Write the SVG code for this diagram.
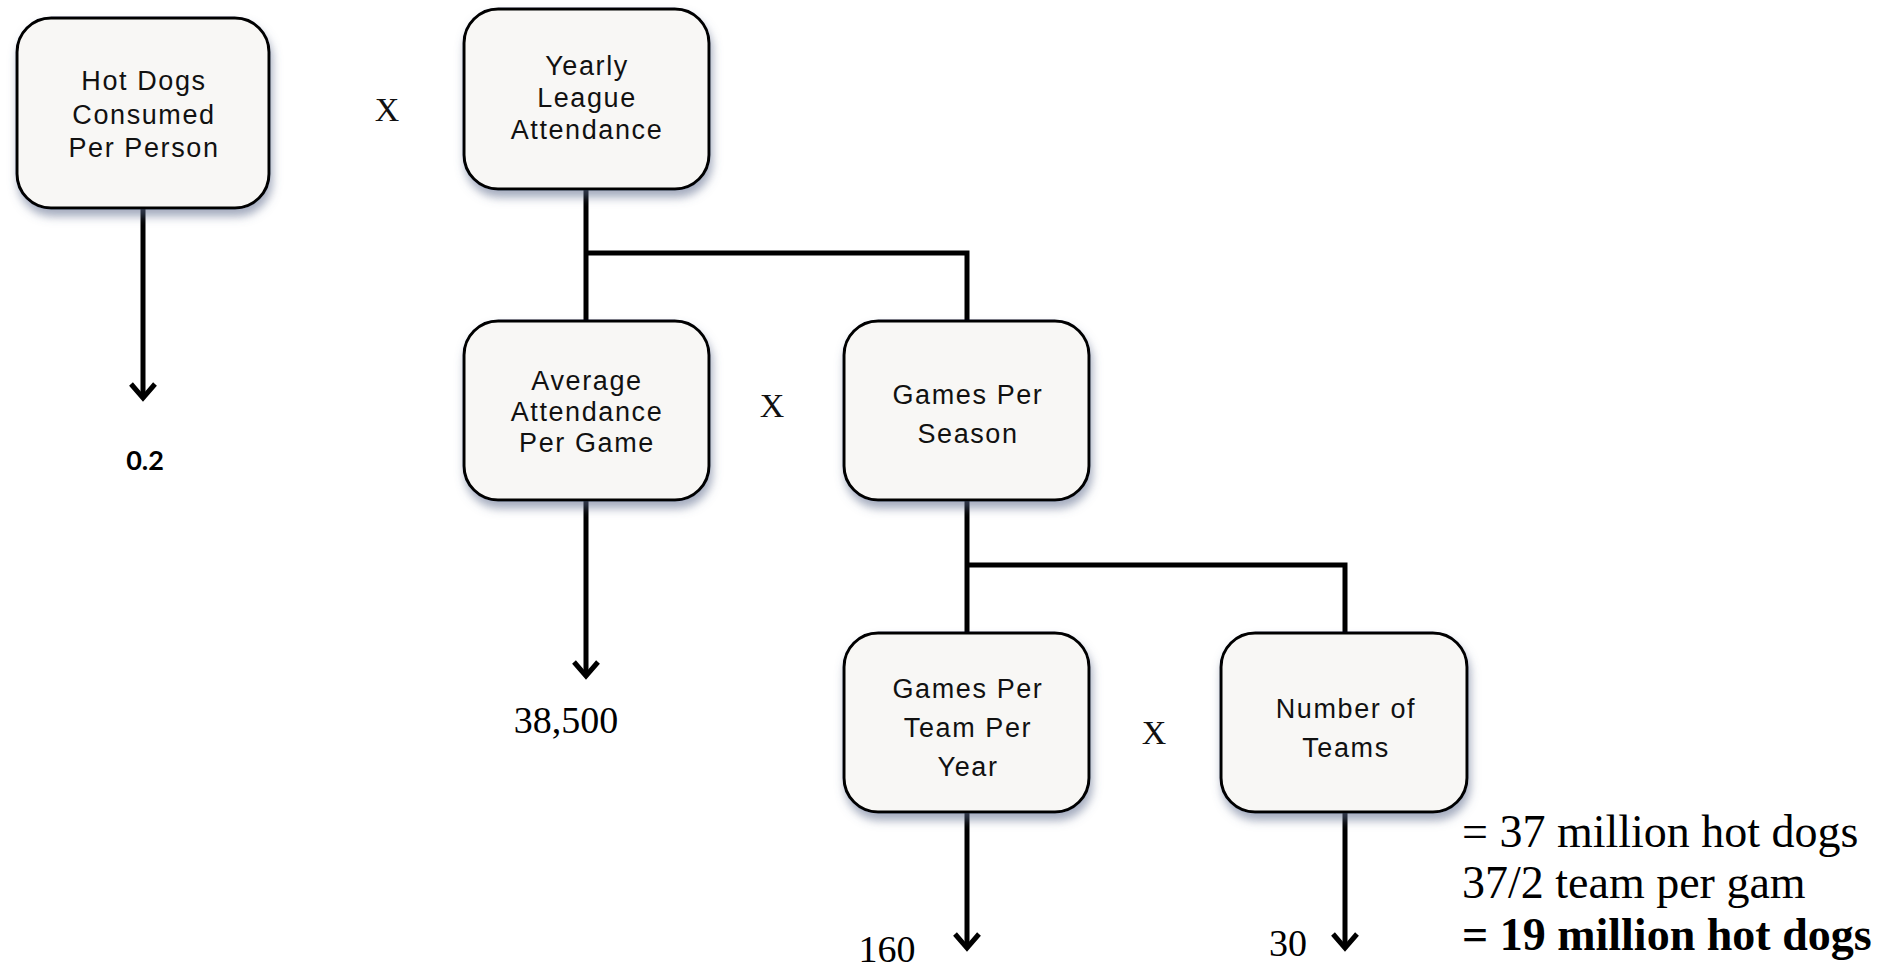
<svg xmlns="http://www.w3.org/2000/svg" width="1898" height="969" viewBox="0 0 1898 969">
<defs>
<filter id="sh" x="-20%" y="-20%" width="140%" height="150%">
<feDropShadow dx="2" dy="7" stdDeviation="5" flood-color="#5a6888" flood-opacity="0.55"/>
</filter>
<marker id="arr" markerUnits="userSpaceOnUse" markerWidth="40" markerHeight="40" refX="16" refY="14" orient="auto" viewBox="-4 -4 40 40">
<path d="M2,2 L16,14 L2,26" fill="none" stroke="#000" stroke-width="5" stroke-linejoin="miter"/>
</marker>
<style>
.box{fill:#f8f7f5;stroke:#000;stroke-width:3;filter:url(#sh)}
.lbl{font-family:"Liberation Sans",Arial,sans-serif;font-size:27px;fill:#111;text-anchor:middle;letter-spacing:1.6px}
.con{fill:none;stroke:#000;stroke-width:5}
.x{font-family:"Liberation Serif",serif;font-size:34px;fill:#111;text-anchor:middle}
.num{font-family:"Liberation Serif",serif;font-size:38px;fill:#000;text-anchor:middle}
.res{font-family:"Liberation Serif",serif;font-size:46px;fill:#000}
</style>
</defs>
<rect width="1898" height="969" fill="#fff"/>
<g id="connectors">
<path class="con" d="M143,208 V398" marker-end="url(#arr)"/>
<path class="con" d="M586,189 V321 M586,253 H967 V321"/>
<path class="con" d="M586,500 V676" marker-end="url(#arr)"/>
<path class="con" d="M967,500 V633 M967,565 H1345 V633"/>
<path class="con" d="M967,812 V948" marker-end="url(#arr)"/>
<path class="con" d="M1345,812 V948" marker-end="url(#arr)"/>
</g>
<g id="hotdogs">
<rect class="box" x="17" y="18" width="252" height="190" rx="34"/>
<text class="lbl" x="144" y="90">Hot Dogs</text>
<text class="lbl" x="144" y="124">Consumed</text>
<text class="lbl" x="144" y="157">Per Person</text>
</g>
<g id="yearly">
<rect class="box" x="464" y="9" width="245" height="180" rx="34"/>
<text class="lbl" x="587" y="75">Yearly</text>
<text class="lbl" x="587" y="107">League</text>
<text class="lbl" x="587" y="139">Attendance</text>
</g>
<g id="average">
<rect class="box" x="464" y="321" width="245" height="179" rx="34"/>
<text class="lbl" x="587" y="390">Average</text>
<text class="lbl" x="587" y="421">Attendance</text>
<text class="lbl" x="587" y="452">Per Game</text>
</g>
<g id="gamesperseason">
<rect class="box" x="844" y="321" width="245" height="179" rx="34"/>
<text class="lbl" x="968" y="404">Games Per</text>
<text class="lbl" x="968" y="443">Season</text>
</g>
<g id="gamesperteam">
<rect class="box" x="844" y="633" width="245" height="179" rx="34"/>
<text class="lbl" x="968" y="698">Games Per</text>
<text class="lbl" x="968" y="737">Team Per</text>
<text class="lbl" x="968" y="776">Year</text>
</g>
<g id="numteams">
<rect class="box" x="1221" y="633" width="246" height="179" rx="34"/>
<text class="lbl" x="1346" y="718">Number of</text>
<text class="lbl" x="1346" y="757">Teams</text>
</g>
<g id="labels">
<text class="x" x="387" y="121">X</text>
<text class="x" x="772" y="417">X</text>
<text class="x" x="1154" y="744">X</text>
<text x="145" y="470" font-family="Lato,'Noto Sans',sans-serif" font-weight="bold" font-size="27" fill="#000" text-anchor="middle">0.2</text>
<text class="num" x="566" y="733" font-size="36">38,500</text>
<text class="num" x="887" y="962">160</text>
<text class="num" x="1288" y="956">30</text>
<text class="res" x="1462" y="847">= 37 million hot dogs</text>
<text class="res" x="1462" y="898">37/2 team per gam</text>
<text class="res" x="1462" y="950" font-weight="bold">= 19 million hot dogs</text>
</g>
</svg>
